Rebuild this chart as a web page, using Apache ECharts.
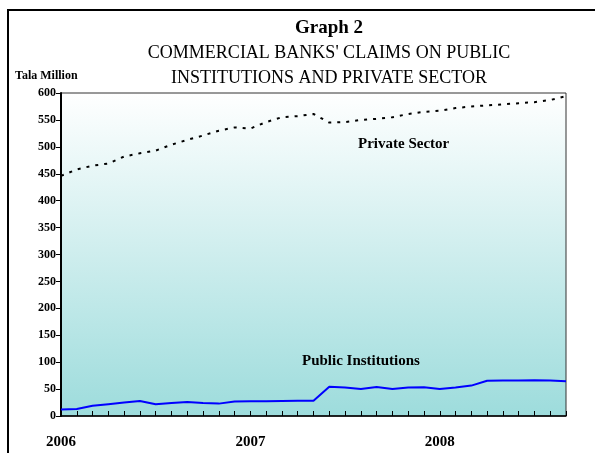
<!DOCTYPE html>
<html>
<head>
<meta charset="utf-8">
<script src="https://cdn.jsdelivr.net/npm/echarts@6/dist/echarts.min.js"></script>
<style>
  html, body { margin: 0; padding: 0; background: #fff; }
</style>
</head>
<body>
<div id="chart" style="width: 595px;height: 453px;"></div>
<script>
// months, Jan 2006 .. Sep 2008
const months = [
  'Jan 2006', 'Feb 2006', 'Mar 2006', 'Apr 2006', 'May 2006', 'Jun 2006',
  'Jul 2006', 'Aug 2006', 'Sep 2006', 'Oct 2006', 'Nov 2006', 'Dec 2006',
  'Jan 2007', 'Feb 2007', 'Mar 2007', 'Apr 2007', 'May 2007', 'Jun 2007',
  'Jul 2007', 'Aug 2007', 'Sep 2007', 'Oct 2007', 'Nov 2007', 'Dec 2007',
  'Jan 2008', 'Feb 2008', 'Mar 2008', 'Apr 2008', 'May 2008', 'Jun 2008',
  'Jul 2008', 'Aug 2008', 'Sep 2008'
];
const privateSector = [
  446, 458, 465, 469, 482, 488, 493, 504, 513, 521, 530, 536,
  534, 546, 555, 557, 561, 545, 546, 550, 552, 555, 561, 565,
  567, 572, 575, 577, 579, 581, 583, 587, 594
];
const publicInst = [
  12, 13, 19, 22, 25, 28, 22, 24, 26, 24, 23, 27,
  27.5, 27.5, 28, 28.5, 28.5, 54.5, 53, 50, 54, 50, 53, 53.5,
  50, 53, 56.5, 65.5, 66, 66, 66.5, 66, 64.5
];
const yTicks = { min: 0, max: 600, step: 50 };

const FONT = '"Liberation Serif", "DejaVu Serif", serif';
const chart = echarts.init(document.getElementById('chart'));

const option = {
  animation: false,
  title: {
    text: 'Graph 2',
    subtext: "COMMERCIAL BANKS' CLAIMS ON PUBLIC\nINSTITUTIONS AND PRIVATE SECTOR",
    left: 324,
    textAlign: 'center',
    top: 14,
    itemGap: 3,
    textStyle: { fontFamily: FONT, fontSize: 19, fontWeight: 'bold', color: '#000' },
    subtextStyle: { fontFamily: FONT, fontSize: 18, fontWeight: 'normal', color: '#000', lineHeight: 25 }
  },
  grid: {
    left: 61,
    right: 29,
    top: 93,
    bottom: 37,
    show: true,
    borderColor: '#333',
    borderWidth: 1,
    backgroundColor: {
      type: 'linear', x: 0, y: 0, x2: 0, y2: 1,
      colorStops: [
        { offset: 0, color: '#ffffff' },
        { offset: 1, color: '#9ddcdc' }
      ]
    }
  },
  graphic: [
    {
      type: 'rect',
      shape: { x: 8, y: 10, width: 620, height: 470 },
      style: { fill: 'none', stroke: '#000', lineWidth: 2 },
      silent: true
    },
    {
      type: 'text', left: 15, top: 70,
      style: { text: 'Tala Million', font: 'bold 12px ' + FONT, fill: '#000' }
    },
    {
      type: 'text', left: 358, top: 137,
      style: { text: 'Private Sector', font: 'bold 15px ' + FONT, fill: '#000' }
    },
    {
      type: 'text', left: 302, top: 354,
      style: { text: 'Public Institutions', font: 'bold 15px ' + FONT, fill: '#000' }
    }
  ],
  xAxis: {
    type: 'category',
    data: months,
    boundaryGap: false,
    axisLine: { lineStyle: { color: '#000', width: 1.5 } },
    axisTick: { inside: true, length: 5, interval: 0, lineStyle: { color: '#000' } },
    axisLabel: {
      interval: (i) => i % 12 === 0,
      formatter: (v) => v.split(' ')[1],
      margin: 19,
      fontFamily: FONT,
      fontSize: 15,
      fontWeight: 'bold',
      color: '#000'
    },
    splitLine: { show: false }
  },
  yAxis: {
    type: 'value',
    min: yTicks.min,
    max: yTicks.max,
    interval: yTicks.step,
    axisLine: { show: true, lineStyle: { color: '#000', width: 2 } },
    axisTick: { show: true, length: 5, lineStyle: { color: '#000' } },
    axisLabel: {
      margin: 5,
      fontFamily: FONT,
      fontSize: 12,
      fontWeight: 'bold',
      color: '#000'
    },
    splitLine: { show: false }
  },
  series: [
    {
      name: 'Private Sector',
      type: 'line',
      data: privateSector,
      symbol: 'none',
      lineStyle: { color: '#000', width: 2, type: [3, 6] },
      z: 3
    },
    {
      name: 'Public Institutions',
      type: 'line',
      data: publicInst,
      symbol: 'none',
      lineStyle: { color: '#0000ff', width: 2 },
      z: 3
    }
  ]
};
chart.setOption(option);
</script>
</body>
</html>
